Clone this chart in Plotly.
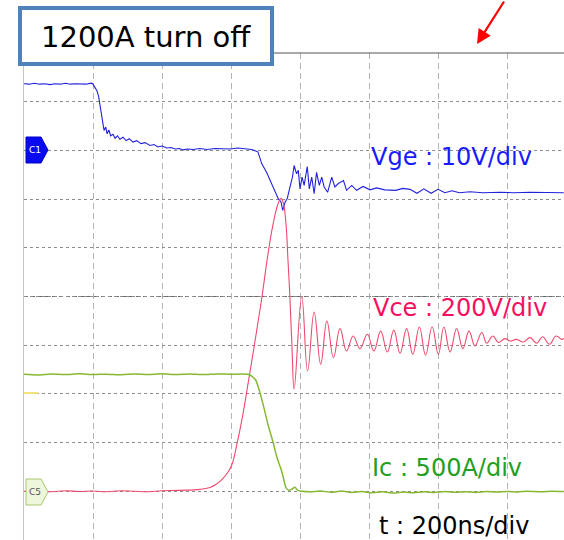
import plotly.graph_objects as go

# ---------------- data ----------------
# time base: 200 ns/div ; Vge: 10 V/div ; Vce: 200 V/div ; Ic: 500 A/div
T_PER_DIV = 200
VGE_PER_DIV = 10
VCE_PER_DIV = 200
IC_PER_DIV = 500

t_vge = [0, 15, 30, 45, 60, 75, 90, 105, 120, 135, 150, 165, 180, 195, 199,
         205, 211, 216, 220, 225, 232, 237, 241, 246, 251, 258, 264, 271, 278,
         287, 296, 305, 316, 327, 339, 351, 365, 377, 388, 400, 414, 426, 438,
         450, 461, 475, 490, 510, 530, 554, 575, 597, 620, 641, 660, 678, 689,
         703, 715, 728, 737, 745, 750, 757, 763, 771, 778, 783, 790, 795, 800,
         806, 812, 821, 827, 834, 841, 848, 856, 863, 870, 880, 892, 901, 911,
         926, 935, 950, 964, 983, 1003, 1022, 1046, 1077, 1098, 1119, 1139,
         1159, 1180, 1200, 1220, 1241, 1262, 1293, 1330, 1380, 1420, 1467,
         1510, 1565]
vge = [13.7, 13.6, 13.8, 13.6, 13.7, 13.5, 13.7, 13.6, 13.8, 13.6, 13.7, 13.7,
       13.6, 13.8, 13.7, 13.0, 12.3, 11.2, 9.6, 6.8, 4.1, 4.8, 3.4, 4.2, 3.0,
       3.3, 2.5, 3.0, 2.3, 2.7, 2.0, 2.4, 1.7, 2.0, 1.4, 1.6, 1.0, 1.2, 0.7,
       0.9, 0.5, 0.6, 0.3, 0.4, 0.1, 0.3, 0.2, 0.4, 0.2, 0.4, 0.3, 0.3, 0.5,
       0.3, 0.2, -0.3, -2.7, -4.5, -6.5, -8.6, -9.9, -10.6, -12.3, -10.6, -9.9,
       -7.5, -5.5, -3.1, -4.8, -4.1, -7.9, -5.5, -7.2, -3.3, -7.9, -5.5, -8.9,
       -4.5, -7.2, -5.5, -7.5, -8.6, -5.5, -7.5, -6.8, -6.2, -8.2, -7.2, -8.2,
       -7.4, -8.1, -7.7, -8.1, -8.2, -7.8, -8.0, -8.8, -7.9, -8.8, -8.0, -8.7,
       -8.3, -8.7, -8.5, -8.7, -8.6, -8.7, -8.6, -8.7, -8.7]

t_vce = [0, 40, 80, 120, 160, 200, 240, 280, 320, 360, 400, 452, 510, 539,
         557, 574, 591, 603, 617, 632, 649, 661, 675, 690, 707, 722, 736, 745,
         751, 759, 765, 771, 777, 783, 805, 822, 841, 860, 878, 897, 916, 935,
         954, 974, 995, 1014, 1034, 1053, 1072, 1090, 1109, 1127, 1146, 1164,
         1183, 1201, 1217, 1235, 1254, 1272, 1290, 1307, 1327, 1341, 1359,
         1375, 1394, 1409, 1428, 1447, 1467, 1486, 1503, 1523, 1542, 1559, 1565]
vce = [0, 3, -2, 2, -1, 1, -2, 2, 0, -2, 2, 4, 8, 16, 29, 49, 78, 111, 193,
       296, 439, 542, 665, 801, 973, 1097, 1179, 1203, 1187, 1105, 953, 789,
       583, 419, 800, 494, 736, 522, 699, 549, 668, 576, 638, 586, 645, 576,
       658, 572, 662, 567, 668, 563, 675, 559, 676, 563, 675, 572, 668, 586,
       658, 597, 652, 608, 638, 611, 627, 617, 624, 613, 631, 608, 635, 604,
       638, 624, 628]

t_ic = [0, 40, 80, 120, 160, 200, 240, 280, 320, 360, 400, 440, 480, 520, 560,
        600, 630, 649, 661, 672, 681, 693, 707, 722, 733, 745, 751, 759, 768,
        776, 785, 794, 806, 830, 860, 890, 920, 950, 980, 1010, 1040, 1070,
        1100, 1130, 1160, 1190, 1220, 1250, 1280, 1310, 1340, 1370, 1400, 1430,
        1460, 1500, 1530, 1565]
ic = [1201, 1195, 1205, 1199, 1206, 1198, 1203, 1197, 1204, 1200, 1206, 1199,
      1204, 1198, 1205, 1202, 1204, 1201, 1181, 1140, 1047, 893, 688, 503, 349,
      226, 150, 41, 10, 21, 41, 10, 0, -5, 3, -10, 2, -12, -3, -15, -5, -18,
      -8, -15, -5, -12, -2, -10, -4, -12, -3, -8, -2, -6, 0, -5, 0, -3]

title_text = "1200A turn off"
label_vge = "Vge : 10V/div"
label_vce = "Vce : 200V/div"
label_ic = "Ic : 500A/div"
label_t = "t : 200ns/div"

# ---------------- layout geometry ----------------
W, H = 564, 540
ML, MT = 24, 53
PW, PH = W - ML, H - MT
DIV_PX_X = 69.0
N_DIV_Y = 10


def px(x):
    return (x - ML) / PW


def py(y):
    return (H - y) / PH


x_range = [0, PW / DIV_PX_X * T_PER_DIV]
VGE_ZERO_DIV = 8
C5_ZERO_DIV = 1
vge_range = [-VGE_ZERO_DIV * VGE_PER_DIV, (N_DIV_Y - VGE_ZERO_DIV) * VGE_PER_DIV]
vce_range = [-C5_ZERO_DIV * VCE_PER_DIV, (N_DIV_Y - C5_ZERO_DIV) * VCE_PER_DIV]
ic_range = [-C5_ZERO_DIV * IC_PER_DIV, (N_DIV_Y - C5_ZERO_DIV) * IC_PER_DIV]

fig = go.Figure()
fig.add_trace(go.Scatter(x=t_vce, y=vce, yaxis="y2", mode="lines",
                         line=dict(color="#ee4a6c", width=1.1, shape="spline", smoothing=1.2),
                         hoverinfo="skip"))
fig.add_trace(go.Scatter(x=t_ic, y=ic, yaxis="y3", mode="lines",
                         line=dict(color="#86b832", width=1.5, shape="spline", smoothing=0.6),
                         hoverinfo="skip"))
fig.add_trace(go.Scatter(x=t_vge, y=vge, yaxis="y", mode="lines",
                         line=dict(color="#2222dd", width=1.1),
                         hoverinfo="skip"))

shapes = []
shapes.append(dict(type="line", xref="paper", yref="paper", x0=0, x1=1, y0=1, y1=1,
                   line=dict(color="#555555", width=1.2), layer="above"))
shapes.append(dict(type="line", xref="paper", yref="paper", x0=0, x1=1, y0=0.5, y1=0.5,
                   line=dict(color="#6a6a6a", width=1.2, dash="4px,3px"), layer="below"))
shapes.append(dict(type="line", xref="paper", yref="paper", x0=px(24), x1=px(38),
                   y0=py(393), y1=py(393), line=dict(color="#f3e27a", width=2), layer="above"))


def tag_path(yc):
    x0, x1, xt = px(26), px(41), px(48)
    y0, y1 = py(yc - 13), py(yc + 13)
    return (f"M {x0},{y0} L {x1},{y0} L {xt},{py(yc)} L {x1},{y1} L {x0},{y1} Z")


shapes.append(dict(type="path", xref="paper", yref="paper", path=tag_path(150),
                   fillcolor="#0a0af0", line=dict(color="#0000cc", width=1), layer="above"))
shapes.append(dict(type="path", xref="paper", yref="paper", path=tag_path(492),
                   fillcolor="#eef6dc", line=dict(color="#a6c870", width=1), layer="above"))
shapes.append(dict(type="rect", xref="paper", yref="paper", x0=px(20), x1=px(272),
                   y0=py(64), y1=py(8), fillcolor="white",
                   line=dict(color="#4f81bd", width=4), layer="above"))

FONT = "DejaVu Sans, Verdana, sans-serif"
annotations = [
    dict(text=title_text, x=px(146), y=py(37), xref="paper", yref="paper",
         showarrow=False, xanchor="center", yanchor="middle",
         font=dict(family=FONT, size=29, color="black")),
    dict(text=label_vge, x=px(369), y=py(157), xref="paper", yref="paper",
         showarrow=False, xanchor="left", yanchor="middle",
         font=dict(family=FONT, size=24, color="#1a1aff")),
    dict(text=label_vce, x=px(371), y=py(308), xref="paper", yref="paper",
         showarrow=False, xanchor="left", yanchor="middle",
         font=dict(family=FONT, size=24, color="#f5105f")),
    dict(text=label_ic, x=px(370), y=py(468), xref="paper", yref="paper",
         showarrow=False, xanchor="left", yanchor="middle",
         font=dict(family=FONT, size=24, color="#22a022")),
    dict(text=label_t, x=px(377), y=py(526), xref="paper", yref="paper",
         showarrow=False, xanchor="left", yanchor="middle",
         font=dict(family=FONT, size=24, color="black")),
    dict(text="C1", x=px(35), y=py(150), xref="paper", yref="paper",
         showarrow=False, xanchor="center", yanchor="middle",
         font=dict(family=FONT, size=9, color="white")),
    dict(text="C5", x=px(35), y=py(492), xref="paper", yref="paper",
         showarrow=False, xanchor="center", yanchor="middle",
         font=dict(family=FONT, size=9, color="#555555")),
    dict(text="", x=px(477), y=py(44), xref="paper", yref="paper",
         showarrow=True, ax=28, ay=-50, axref="pixel", ayref="pixel",
         arrowcolor="#ff0000", arrowwidth=2.2, arrowhead=2, arrowsize=1.3),
]

fig.update_layout(
    width=W, height=H, autosize=False,
    margin=dict(l=ML, r=0, t=MT, b=0, pad=0),
    paper_bgcolor="white", plot_bgcolor="white",
    showlegend=False,
    shapes=shapes, annotations=annotations,
    xaxis=dict(range=x_range, tick0=0, dtick=T_PER_DIV, showgrid=True,
               gridcolor="#b2b2b2", griddash="6px,4px", gridwidth=1,
               zeroline=False, showticklabels=False, ticks="", showline=False,
               fixedrange=True),
    yaxis=dict(range=vge_range, tick0=0, dtick=VGE_PER_DIV, showgrid=True,
               gridcolor="#8c8c8c", griddash="3px,3px", gridwidth=1,
               zeroline=False, showticklabels=False, ticks="",
               showline=True, linecolor="#c4c4c4", linewidth=1, fixedrange=True),
    yaxis2=dict(range=vce_range, overlaying="y", visible=False, fixedrange=True),
    yaxis3=dict(range=ic_range, overlaying="y", visible=False, fixedrange=True),
)

fig.write_html(
    "out.html",
    config={"displayModeBar": False},
    post_script="document.body.style.margin='0';document.body.style.overflow='hidden';",
)
